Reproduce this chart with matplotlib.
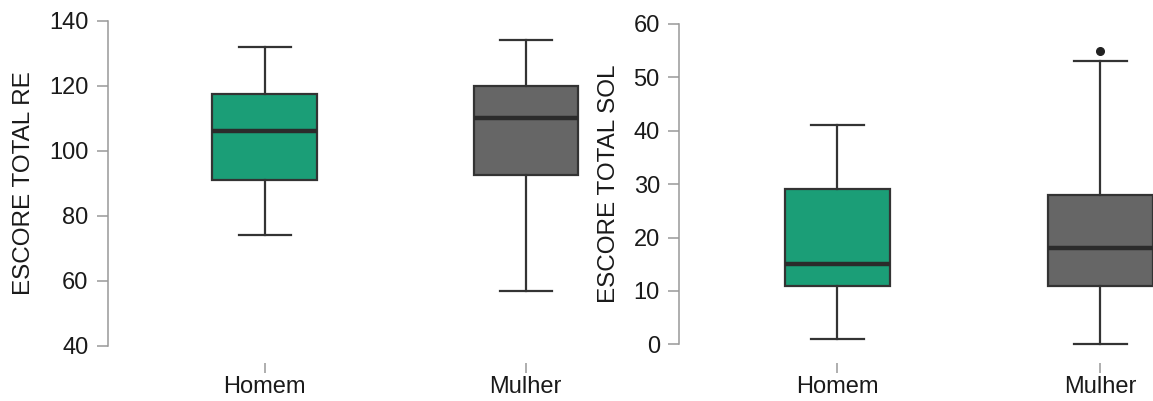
import numpy as np
import matplotlib
matplotlib.use("Agg")
import matplotlib.pyplot as plt

plt.rcParams['font.family'] = ['Liberation Sans', 'DejaVu Sans']

# Data
grupos = ['Homem', 'Mulher']
cores = ['#1b9e77', '#666666']

re_q1 = [91, 92.5]
re_med = [106, 110]
re_q3 = [117.5, 120]
re_lo = [74, 57]
re_hi = [132, 134]
re_out = [[], []]

sol_q1 = [11, 11]
sol_med = [15, 18]
sol_q3 = [29, 28]
sol_lo = [1, 0]
sol_hi = [41, 53]
sol_out = [[], [55]]


def make_stats(q1, med, q3, lo, hi, out):
    stats = []
    for i in range(len(q1)):
        stats.append({'q1': q1[i], 'med': med[i], 'q3': q3[i],
                      'whislo': lo[i], 'whishi': hi[i],
                      'fliers': out[i], 'label': grupos[i]})
    return stats


def draw(ax, stats, ylim, yticks, ylabel, xright):
    pos = np.arange(1, len(stats) + 1)
    bp = ax.bxp(stats, positions=pos, widths=0.4, capwidths=0.2,
                patch_artist=True, showfliers=True,
                boxprops=dict(edgecolor='#333333', linewidth=1.6),
                medianprops=dict(color='#2b2b2b', linewidth=3.2),
                whiskerprops=dict(color='#333333', linewidth=1.6),
                capprops=dict(color='#333333', linewidth=1.6),
                flierprops=dict(marker='o', markerfacecolor='#222222',
                                markeredgecolor='#222222', markersize=5.5))
    for patch, c in zip(bp['boxes'], cores):
        patch.set_facecolor(c)
    ax.set_xlim(0.4, xright)
    ax.set_ylim(*ylim)
    ax.set_yticks(yticks)
    ax.set_xticks(pos)
    ax.set_xticklabels(grupos, fontsize=17, color='#1a1a1a')
    ax.set_ylabel(ylabel, fontsize=17.5, color='#1a1a1a', labelpad=10)
    # centre the axis title on the drawn spine, not on the whole axes
    mid = (np.mean([yticks[0], yticks[-1]]) - ylim[0]) / (ylim[1] - ylim[0])
    ax.yaxis.label.set_y(mid)
    for s in ['top', 'right', 'bottom']:
        ax.spines[s].set_visible(False)
    ax.spines['left'].set_color('#999999')
    ax.spines['left'].set_linewidth(1.1)
    ax.spines['left'].set_bounds(yticks[0], yticks[-1])
    ax.tick_params(axis='y', length=8, width=1.1, color='#999999',
                   labelsize=17, labelcolor='#1a1a1a', pad=6)
    ax.tick_params(axis='x', length=7.5, width=1.1, color='#999999', pad=2)
    ax.set_facecolor('none')


fig = plt.figure(figsize=(11.53, 4.01), dpi=100)

ax1 = fig.add_axes([108 / 1153, 38 / 401, 483 / 1153, 342.3 / 401])
draw(ax1, make_stats(re_q1, re_med, re_q3, re_lo, re_hi, re_out),
     (34.7, 140), [40, 60, 80, 100, 120, 140], 'ESCORE TOTAL RE', 2.25)

ax2 = fig.add_axes([679.3 / 1153, 38 / 401, 473.7 / 1153, 339 / 401])
draw(ax2, make_stats(sol_q1, sol_med, sol_q3, sol_lo, sol_hi, sol_out),
     (-3.5, 60), [0, 10, 20, 30, 40, 50, 60], 'ESCORE TOTAL SOL', 2.2)

for ax in (ax1, ax2):
    for a in ax.get_children():
        try:
            a.set_clip_on(False)
        except Exception:
            pass

fig.savefig('out.png', dpi=100)
